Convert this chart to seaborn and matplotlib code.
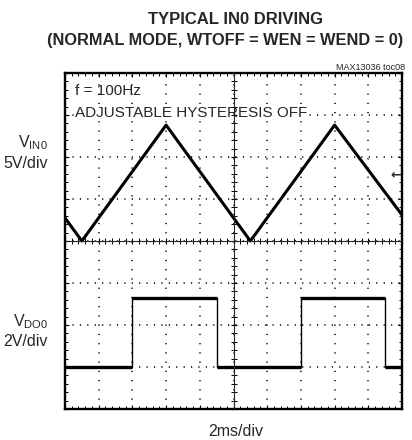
import matplotlib
matplotlib.use('Agg')
import matplotlib.pyplot as plt
from matplotlib import font_manager
from matplotlib.ticker import MultipleLocator
import numpy as np
import pandas as pd
import seaborn as sns

# scope settings
time_per_div = 2.0      # ms/div
vin_per_div = 5.0       # V/div
vdo_per_div = 2.0       # V/div
vin_offset_div = 0.0    # IN0 trace zero position (divisions from centre)
vdo_offset_div = -3.0   # DO0 trace zero position

# IN0 triangle wave (ms, V)
vin_time = [0.0, 1.0, 6.0, 11.0, 16.0, 20.0]
vin_volts = [2.75, 0.0, 13.8, 0.0, 13.8, 3.1]

# DO0 square output (ms, V)
vdo_time = [0.0, 4.0, 4.0, 9.0, 9.0, 14.0, 14.0, 19.0, 19.0, 20.0]
vdo_volts = [0.0, 0.0, 3.3, 3.3, 0.0, 0.0, 3.3, 3.3, 0.0, 0.0]

trigger_level_v = 7.85

sns.set_style('white')
names = {f.name for f in font_manager.fontManager.ttflist}
narrow = 'Liberation Sans Narrow' if 'Liberation Sans Narrow' in names else 'Liberation Sans'
plt.rcParams['font.family'] = [narrow, 'DejaVu Sans']

df_in = pd.DataFrame({'div_x': np.array(vin_time) / time_per_div,
                      'div_y': np.array(vin_volts) / vin_per_div + vin_offset_div})
df_do = pd.DataFrame({'div_x': np.array(vdo_time) / time_per_div,
                      'div_y': np.array(vdo_volts) / vdo_per_div + vdo_offset_div})

fig = plt.figure(figsize=(4.12, 4.40), dpi=100)
pos = [65 / 412, 1 - 409 / 440, 337 / 412, 336 / 440]
ax = fig.add_axes(pos)

ax.set_xlim(0, 10)
ax.set_ylim(-4, 4)

# dotted graticule
ax.xaxis.set_major_locator(MultipleLocator(1))
ax.yaxis.set_major_locator(MultipleLocator(1))
ax.xaxis.set_minor_locator(MultipleLocator(0.2))
ax.yaxis.set_minor_locator(MultipleLocator(0.2))
ax.xaxis.grid(True, color='black', lw=1.1, linestyle=(0, (0.8, 5.25)))
ax.yaxis.grid(True, color='black', lw=1.1, linestyle=(0, (0.8, 4.05)))
ax.set_axisbelow(True)
ax.tick_params(which='both', direction='in', top=True, right=True, bottom=True, left=True,
               labelbottom=False, labelleft=False, color='black')
ax.tick_params(which='major', length=3, width=0.8)
ax.tick_params(which='minor', length=2, width=0.7)
for s in ax.spines.values():
    s.set_linewidth(1.7)
    s.set_color('black')

# centre cross with tick marks
ax2 = fig.add_axes(pos, sharex=ax, sharey=ax)
ax2.patch.set_visible(False)
ax2.spines['top'].set_visible(False)
ax2.spines['right'].set_visible(False)
ax2.spines['left'].set_position(('data', 5))
ax2.spines['bottom'].set_position(('data', 0))
for s in ['left', 'bottom']:
    ax2.spines[s].set_linewidth(0.8)
ax2.tick_params(which='both', direction='inout', labelbottom=False, labelleft=False,
                bottom=True, left=True, top=False, right=False, color='black')
ax2.tick_params(which='major', length=5, width=0.8)
ax2.tick_params(which='minor', length=4, width=0.7)

# traces
sns.lineplot(data=df_in, x='div_x', y='div_y', ax=ax, color='black', lw=2.2,
             sort=False, estimator=None)
sns.lineplot(data=df_do, x='div_x', y='div_y', ax=ax, color='black', lw=1.0,
             sort=False, estimator=None)
ax.hlines(df_do['div_y'][1::2].values, df_do['div_x'][0::2].values,
          df_do['div_x'][1::2].values, color='black', lw=2.4)
ax.set_xlabel('')
ax.set_ylabel('')

# trigger marker
ax.text(9.97, trigger_level_v / vin_per_div + vin_offset_div, '\u2190', ha='right',
        va='center', fontsize=9, fontweight='bold', family='DejaVu Sans')

# annotations
ax.text(0.03, 0.946, 'f = 100Hz', transform=ax.transAxes, fontsize=11, va='center')
ax.text(0.03, 0.881, 'ADJUSTABLE HYSTERESIS OFF', transform=ax.transAxes, fontsize=11,
        va='center', bbox=dict(facecolor='white', edgecolor='none', pad=0.5))

fig.text(235 / 412, 1 - 19 / 440, 'TYPICAL IN0 DRIVING', ha='center', va='center',
         fontsize=12, fontweight='bold')
sub = fig.text(47 / 412, 1 - 41 / 440, '(NORMAL MODE, WTOFF = WEN = WEND = 0)', ha='left',
               va='center', fontsize=12, fontweight='bold')
# shrink the second title line until it fits in the figure
renderer = fig.canvas.get_renderer()
for _ in range(20):
    bb = sub.get_window_extent(renderer)
    if bb.x1 <= 409:
        break
    sub.set_fontsize(sub.get_fontsize() - 0.2)

fig.text(405 / 412, 1 - 67 / 440, 'MAX13036 toc08', ha='right', va='center', fontsize=6.5)

fig.text(48 / 412, 1 - 143 / 440, '$\\mathregular{V_{IN0}}$', ha='right', va='center', fontsize=11.5)
fig.text(48 / 412, 1 - 163 / 440, '5V/div', ha='right', va='center', fontsize=11.5)
fig.text(48 / 412, 1 - 322 / 440, '$\\mathregular{V_{DO0}}$', ha='right', va='center', fontsize=11.5)
fig.text(48 / 412, 1 - 342 / 440, '2V/div', ha='right', va='center', fontsize=11.5)
fig.text(236 / 412, 1 - 431 / 440, '2ms/div', ha='center', va='center', fontsize=11.5)

fig.savefig('out.png', dpi=100)
